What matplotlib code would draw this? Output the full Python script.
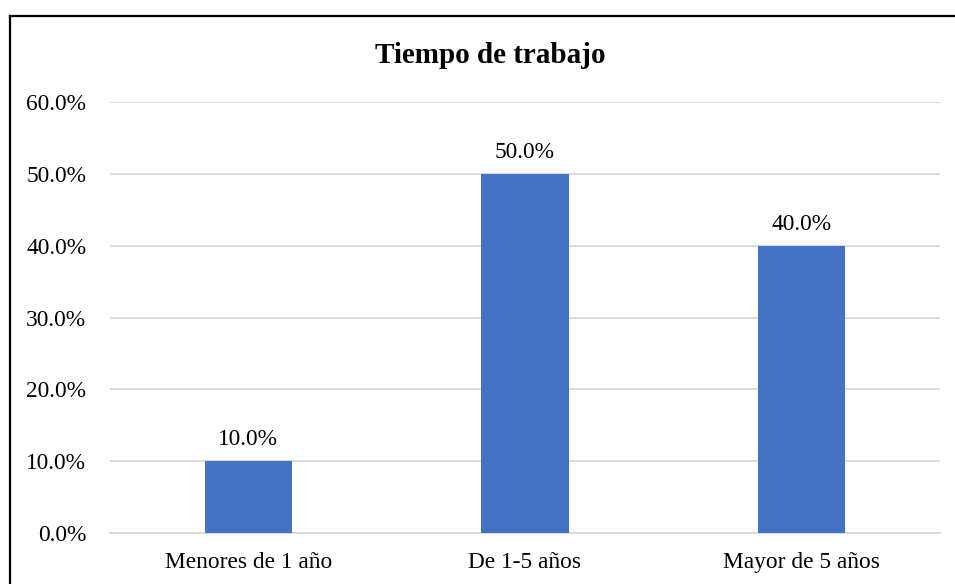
import matplotlib
matplotlib.use("Agg")
import matplotlib.pyplot as plt
from matplotlib.lines import Line2D
from matplotlib.ticker import FuncFormatter

categories = ["Menores de 1 año", "De 1-5 años", "Mayor de 5 años"]
values = [10.0, 50.0, 40.0]
yticks = [0, 10, 20, 30, 40, 50, 60]

plt.rcParams['font.family'] = ['Liberation Serif', 'DejaVu Serif']

fig = plt.figure(figsize=(9.55, 5.84), dpi=100)
ax = fig.add_axes([110/955, 51/584, 830/955, 431/584])

x = list(range(len(categories)))
bars = ax.bar(x, values, width=0.315, color="#4472C4", zorder=3)
ax.set_xlim(-0.5, 2.5)
ax.set_ylim(0, 60)
ax.set_yticks(yticks)
ax.yaxis.set_major_formatter(FuncFormatter(lambda v, p: f"{v:.1f}%"))
ax.set_xticks(x)
ax.set_xticklabels(categories)
ax.tick_params(axis='both', length=0, labelsize=16.8, colors="black")
ax.tick_params(axis='y', pad=17)
ax.tick_params(axis='x', pad=14)
ax.grid(axis='y', color="#d9d9d9", linewidth=1.3, zorder=0)
for s in ["top", "right", "left"]:
    ax.spines[s].set_visible(False)
ax.spines["bottom"].set_color("#d9d9d9")
ax.spines["bottom"].set_linewidth(1.3)

for xi, v in zip(x, values):
    ax.annotate(f"{v:.1f}%", (xi, v), xytext=(0, 11.5), textcoords="offset points",
                ha="center", va="baseline", fontsize=16.8)

fig.text(490/955, 1 - 63/584, "Tiempo de trabajo", ha="center", va="baseline",
         fontsize=21, fontweight="bold")

fig.add_artist(Line2D([9.5/955, 1.0], [1 - 15.5/584, 1 - 15.5/584],
                      transform=fig.transFigure, color="black", linewidth=1.6))
fig.add_artist(Line2D([9.5/955, 9.5/955], [0, 1 - 15.5/584],
                      transform=fig.transFigure, color="black", linewidth=1.6))

fig.savefig("out.png", dpi=100)
